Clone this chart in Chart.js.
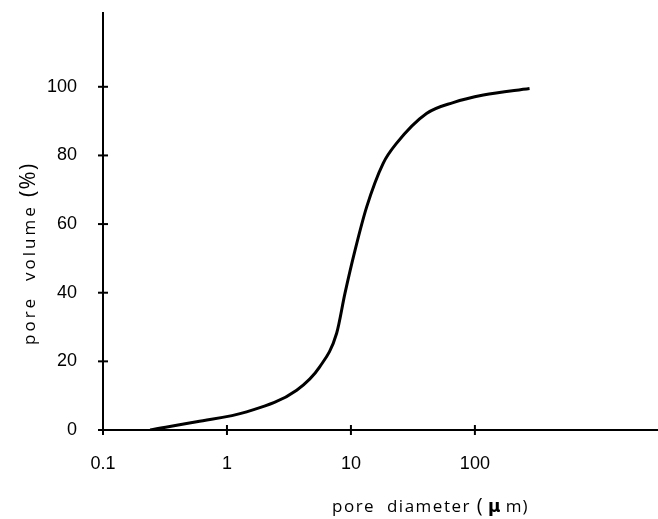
<!DOCTYPE html>
<html>
<head>
<meta charset="utf-8">
<script src="https://cdn.jsdelivr.net/npm/chart.js@4/dist/chart.umd.min.js"></script>
<style>
  html, body { margin: 0; padding: 0; background: #fff; }
  #wrap { width: 658px; height: 519px; }
</style>
</head>
<body>
<div id="wrap"><canvas id="poreChart" width="658" height="519"></canvas></div>
<script>
// data //
const diameters = [0.24, 0.57, 1.44, 3.65, 5.6, 7.67, 8.95, 10.8, 13.4, 18.2, 23.3, 40.7, 66.8, 117, 276];
const volumes = [0, 2.4, 5.3, 11.6, 18.4, 28.2, 39.8, 52.4, 65, 77.7, 83.5, 92.2, 95.4, 97.6, 99.5];
const xTicks = [0.1, 1, 10, 100];
const xTickLabels = ['0.1', '1', '10', '100'];
const yTicks = [0, 20, 40, 60, 80, 100];

const points = diameters.map((d, i) => ({ x: d, y: volumes[i] }));

// ticks that cross the axis + axis titles //
const axisDecor = {
    id: 'axisDecor',
    afterDraw(chart) {
        const ctx = chart.ctx;
        const xs = chart.scales.x;
        const ys = chart.scales.y;
        const area = chart.chartArea;
        ctx.save();
        ctx.strokeStyle = '#000';
        ctx.lineWidth = 2;
        xTicks.forEach(v => {
            const px = xs.getPixelForValue(v);
            ctx.beginPath();
            ctx.moveTo(px, area.bottom - 5);
            ctx.lineTo(px, area.bottom + 5);
            ctx.stroke();
        });
        yTicks.forEach(v => {
            const py = ys.getPixelForValue(v);
            ctx.beginPath();
            ctx.moveTo(area.left - 5, py);
            ctx.lineTo(area.left + 5, py);
            ctx.stroke();
        });

        ctx.fillStyle = '#000';
        ctx.textBaseline = 'middle';

        // x title
        ctx.font = '17px "Open Sans"';
        ctx.letterSpacing = '1.5px';
        ctx.textAlign = 'left';
        const xt1 = 'pore  diameter ';
        let w1 = ctx.measureText(xt1).width;
        ctx.fillText(xt1, 332, 507);
        ctx.font = '20px "Open Sans"';
        ctx.letterSpacing = '0px';
        ctx.fillText('(', 332 + w1, 506);
        let w2 = ctx.measureText('( ').width;
        ctx.font = 'bold 17px "DejaVu Sans"';
        ctx.fillText('\u03bc', 332 + w1 + w2, 508);
        let w3 = ctx.measureText('\u03bc').width;
        ctx.font = '17px "Open Sans"';
        ctx.letterSpacing = '1px';
        ctx.fillText(' m)', 332 + w1 + w2 + w3, 507);

        // y title
        ctx.translate(30, 345);
        ctx.rotate(-Math.PI / 2);
        ctx.font = '17px "Open Sans"';
        ctx.letterSpacing = '3px';
        const yt1 = 'pore  volume ';
        const wy = ctx.measureText(yt1).width;
        ctx.fillText(yt1, 0, 0);
        ctx.font = '22px "Open Sans"';
        ctx.letterSpacing = '1px';
        ctx.fillText('(%)', wy, -1);
        ctx.restore();
    }
};

document.addEventListener('DOMContentLoaded', () => {
    const ctx = document.getElementById('poreChart').getContext('2d');
    const poreChart = new Chart(ctx, {
        type: 'line',
        data: {
            datasets: [{
                label: 'pore volume',
                data: points,
                borderColor: '#000',
                borderWidth: 3,
                pointRadius: 0,
                fill: false,
                cubicInterpolationMode: 'monotone'
            }]
        },
        options: {
            responsive: false,
            animation: false,
            layout: { padding: { top: 13, right: 0, left: 0, bottom: 0 } },
            plugins: {
                legend: { display: false },
                tooltip: { enabled: false }
            },
            scales: {
                x: {
                    type: 'logarithmic',
                    min: 0.1,
                    max: 3000,
                    afterBuildTicks: scale => { scale.ticks = xTicks.map(v => ({ value: v })); },
                    afterFit: scale => { scale.height = 89; scale.paddingLeft = 0; scale.paddingRight = 0; },
                    grid: { display: false },
                    border: { display: true, color: '#000', width: 2 },
                    ticks: {
                        color: '#000',
                        font: { family: 'Liberation Sans', size: 18 },
                        padding: 15,
                        maxRotation: 0,
                        callback: (v) => xTickLabels[xTicks.indexOf(v)]
                    }
                },
                y: {
                    min: 0,
                    max: 121.5,
                    afterBuildTicks: scale => { scale.ticks = yTicks.map(v => ({ value: v })); },
                    afterFit: scale => { scale.width = 103; scale.paddingTop = 0; scale.paddingBottom = 0; },
                    grid: { display: false },
                    border: { display: true, color: '#000', width: 2 },
                    ticks: {
                        color: '#000',
                        font: { family: 'Liberation Sans', size: 18 },
                        padding: 18
                    }
                }
            }
        },
        plugins: [axisDecor]
    });
});
</script>
</body>
</html>
